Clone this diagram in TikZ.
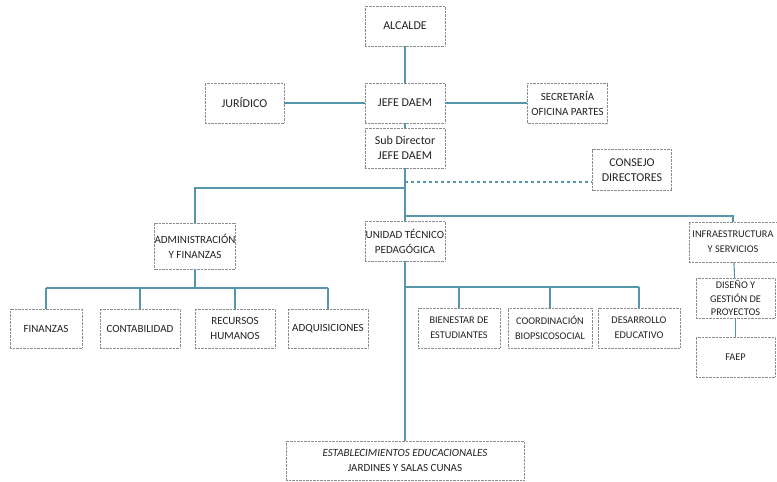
\documentclass[tikz,border=0pt]{standalone}
\usepackage{fontspec}
\setmainfont{Carlito}
\definecolor{lineaazul}{RGB}{86,150,170}
\definecolor{bordegris}{RGB}{140,140,140}
\definecolor{textogris}{RGB}{35,35,35}
\tikzset{
  caja/.style={draw=bordegris, densely dotted, fill=white, text=textogris, align=center,
    inner sep=0pt, minimum width=80pt, minimum height=40pt, font=\fontsize{11}{15}\selectfont},
  grande/.style={font=\fontsize{12}{15}\selectfont},
  chica/.style={font=\fontsize{10.3}{15}\selectfont},
  linea/.style={lineaazul, line width=1.1pt},
}
\begin{document}
\begin{tikzpicture}[x=1pt,y=-1pt]
\useasboundingbox (0,0) rectangle (777,482);

% Direccion superior
\node[caja, grande] (alcalde) at (405,26) {ALCALDE};
\node[caja, grande] (jefe) at (405,103) {JEFE DAEM};
\node[caja, grande, minimum width=79pt] (juridico) at (244.5,103) {JURÍDICO};
\node[caja] (secretaria) at (567.5,103) {SECRETARÍA\\OFICINA PARTES};
\node[caja, grande] (subdir) at (405,148) {Sub Director\\JEFE DAEM};
\node[caja, grande, minimum width=79pt, minimum height=41pt] (consejo) at (632,170) {CONSEJO\\DIRECTORES};

% Departamentos
\node[caja, minimum width=77pt, minimum height=46pt] (admin) at (195,246) {ADMINISTRACIÓN\\Y FINANZAS};
\node[caja] (utp) at (405,241) {UNIDAD TÉCNICO\\PEDAGÓGICA};
\node[caja, minimum width=88pt, font=\fontsize{10.3}{15}\selectfont] (infra) at (733,242) {INFRAESTRUCTURA\\Y SERVICIOS};

% Unidades de administracion
\node[caja, minimum width=72pt, minimum height=39pt] (finanzas) at (46,328.5) {FINANZAS};
\node[caja, minimum height=39pt] (contab) at (140,328.5) {CONTABILIDAD};
\node[caja, minimum height=39pt] (recursos) at (235,328.5) {RECURSOS\\HUMANOS};
\node[caja, minimum height=39pt] (adquis) at (328,328.5) {ADQUISICIONES};

% Unidades tecnico pedagogicas
\node[caja, chica, minimum width=82pt] (bienestar) at (459,328) {BIENESTAR DE\\ESTUDIANTES};
\node[caja, chica, minimum width=84pt] (coord) at (550,328) {COORDINACIÓN\\BIOPSICOSOCIAL};
\node[caja, chica, minimum width=82pt] (desarrollo) at (639,328) {DESARROLLO\\EDUCATIVO};

% Infraestructura
\node[caja, chica, minimum width=79pt, font=\fontsize{10.3}{13.5}\selectfont] (diseno) at (735.5,298) {DISEÑO Y\\GESTIÓN DE\\PROYECTOS};
\node[caja, chica, minimum width=79pt] (faep) at (735.5,357) {FAEP};

% Establecimientos
\node[caja, minimum width=238pt, minimum height=39pt] (estab) at (405,460.5) {\textit{ESTABLECIMIENTOS EDUCACIONALES}\\JARDINES Y SALAS CUNAS};

% Puntos de bifurcacion del tronco
\coordinate (r1) at (405,188);
\coordinate (r2) at (405,216);
\coordinate (r3) at (405,182);
\coordinate (r4) at (405,287);
\coordinate (r5) at (0,288);

% Conectores superiores
\draw[linea] (alcalde) -- (jefe);
\draw[linea] (juridico) -- (jefe);
\draw[linea] (jefe) -- (secretaria);
\draw[linea] (jefe) -- (subdir);
\draw[linea] (subdir) -- (utp);
\draw[linea, dashed] (r3) -- (r3 -| consejo.west);
\draw[linea] (r1) -| (admin);
\draw[linea] (r2) -| (infra);
\draw[linea] (utp) -- (estab);

% Ramas de administracion
\draw[linea] (admin) -- (admin.south |- r5);
\draw[linea] (finanzas.north |- r5) -- (adquis.north |- r5);
\foreach \u in {finanzas,contab,recursos,adquis}
  \draw[linea] (\u.north |- r5) -- (\u);

% Ramas tecnico pedagogicas
\draw[linea] (r4) -- (desarrollo.north |- r4);
\foreach \u in {bienestar,coord,desarrollo}
  \draw[linea] (\u.north |- r4) -- (\u);

% Infraestructura
\draw[linea] (infra) -- (diseno);
\draw[linea] (diseno) -- (faep);

\end{tikzpicture}
\end{document}
